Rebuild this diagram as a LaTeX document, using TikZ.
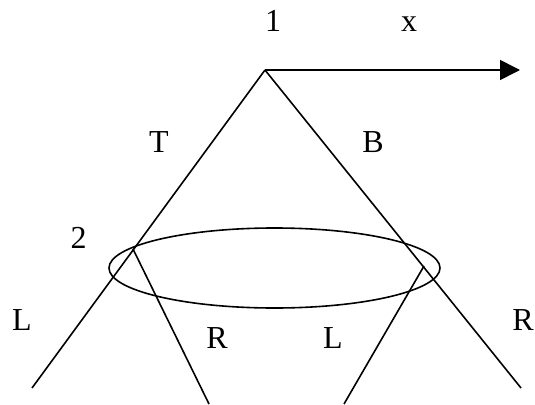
\documentclass[tikz,border=0pt]{standalone}
\usepackage{fontspec}
\setmainfont{Liberation Serif}
\usetikzlibrary{arrows.meta}
\begin{document}
\begin{tikzpicture}[x=1pt,y=-1pt,
  lbl/.style={anchor=base,inner sep=0pt,font=\fontsize{32}{32}\selectfont},
  ln/.style={line width=1.6pt}]
\useasboundingbox (0,0) rectangle (535,404);
% coordinates
\coordinate (n1) at (265,70);
\coordinate (xend) at (520,70);
\coordinate (lend) at (32,388);
\coordinate (rend) at (521,388);
\coordinate (j2) at (133,249);
\coordinate (j3) at (424,266);
\coordinate (lin) at (209,404);
\coordinate (rin) at (344,404);
% lines
\draw[ln,-{Triangle[length=20pt,width=20pt]}] (n1) -- (xend);
\draw[ln] (n1) -- (lend);
\draw[ln] (n1) -- (rend);
\draw[ln] (j2) -- (lin);
\draw[ln] (j3) -- (rin);
\draw[ln] (274.5,268) ellipse [x radius=165.5, y radius=40];
% labels
\node[lbl] (t1) at (273,32) {1};
\node[lbl] (tx) at (409,32) {x};
\node[lbl] (tT) at (159,152) {T};
\node[lbl] (tB) at (373,152) {B};
\node[lbl] (t2) at (78.5,248) {2};
\node[lbl] (tL1) at (22,330) {L};
\node[lbl] (tR1) at (217,348) {R};
\node[lbl] (tL2) at (333,348) {L};
\node[lbl,anchor=base east] (tR2) at (534,330) {R};
\end{tikzpicture}
\end{document}
